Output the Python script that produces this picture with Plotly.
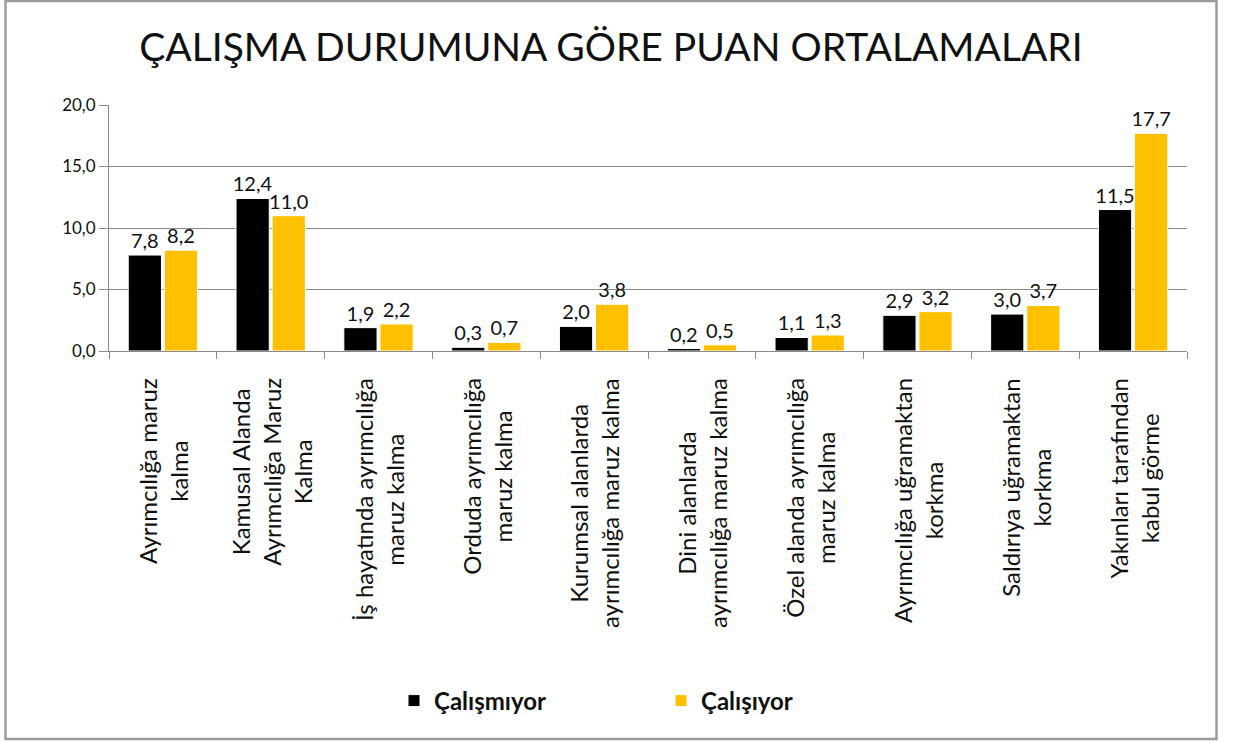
import plotly.graph_objects as go

# Chart data
categories = [
    "Ayrımcılığa maruz kalma",
    "Kamusal Alanda Ayrımcılığa Maruz Kalma",
    "İş hayatında ayrımcılığa maruz kalma",
    "Orduda ayrımcılığa maruz kalma",
    "Kurumsal alanlarda ayrımcılığa maruz kalma",
    "Dini alanlarda ayrımcılığa maruz kalma",
    "Özel alanda ayrımcılığa maruz kalma",
    "Ayrımcılığa uğramaktan korkma",
    "Saldırıya uğramaktan korkma",
    "Yakınları tarafından kabul görme",
]
tick_labels = [
    "Ayrımcılığa maruz<br>kalma",
    "Kamusal Alanda<br>Ayrımcılığa Maruz<br>Kalma",
    "İş hayatında ayrımcılığa<br>maruz kalma",
    "Orduda ayrımcılığa<br>maruz kalma",
    "Kurumsal alanlarda<br>ayrımcılığa maruz kalma",
    "Dini alanlarda<br>ayrımcılığa maruz kalma",
    "Özel alanda ayrımcılığa<br>maruz kalma",
    "Ayrımcılığa uğramaktan<br>korkma",
    "Saldırıya uğramaktan<br>korkma",
    "Yakınları tarafından<br>kabul görme",
]
calismiyor = [7.8, 12.4, 1.9, 0.3, 2.0, 0.2, 1.1, 2.9, 3.0, 11.5]
calisiyor = [8.2, 11.0, 2.2, 0.7, 3.8, 0.5, 1.3, 3.2, 3.7, 17.7]
y_ticks = [0, 5, 10, 15, 20]

FONT = "Lato, 'Open Sans', sans-serif"
GRID = "#8a8a8a"
INK = "#111111"

# Figure geometry (pixels)
W, H = 1238, 742
PL, PR, PT, PB = 109, 1187, 105, 351


def px_x(px):
    return (px - PL) / (PR - PL)


def px_y(py):
    return (PB - py) / (PB - PT)


fig = go.Figure()
for name, vals, color in [("Çalışmıyor", calismiyor, "#000000"),
                          ("Çalışıyor", calisiyor, "#FFC000")]:
    fig.add_trace(go.Bar(
        x=categories, y=vals, name=name,
        marker=dict(color=color, line=dict(color="#ffffff", width=1)),
        text=vals, texttemplate="%{y:.1f}", textposition="outside",
        constraintext="none",
        textfont=dict(family=FONT, size=20, color=INK),
        cliponaxis=False,
    ))

# Rotated, centred category labels below the axis
for cat, lab in zip(categories, tick_labels):
    fig.add_annotation(
        x=cat, xref="x", y=px_y(376), yref="paper",
        text=lab, textangle=-90, showarrow=False,
        xanchor="center", yanchor="top", align="center",
        font=dict(family=FONT, size=24, color=INK),
    )

# Outer chart frame
fig.add_shape(type="rect", xref="paper", yref="paper",
              x0=px_x(5.5), x1=px_x(1216.5), y0=px_y(739), y1=px_y(1),
              line=dict(color="#9c9c9c", width=2.5), layer="below")

fig.update_layout(
    width=W, height=H,
    margin=dict(l=PL, r=W - PR, t=PT, b=H - PB),
    paper_bgcolor="#ffffff", plot_bgcolor="#ffffff",
    separators=",.",
    barmode="group", bargap=0.33, bargroupgap=0.08,
    title=dict(text="ÇALIŞMA DURUMUNA GÖRE PUAN ORTALAMALARI",
               x=611 / W, xanchor="center", y=1 - 47 / H, yanchor="middle",
               font=dict(family=FONT, size=39, color=INK)),
    showlegend=True,
    legend=dict(orientation="h", x=px_x(394), xanchor="left",
                y=px_y(701), yanchor="middle",
                entrywidthmode="pixels", entrywidth=222,
                font=dict(family=FONT, size=24, color=INK, weight="bold"),
                itemclick=False),
    xaxis=dict(showticklabels=False, ticks="outside", tickson="boundaries",
               ticklen=7, tickcolor=GRID, showline=True, linecolor=GRID,
               linewidth=1, showgrid=False),
    yaxis=dict(range=[0, 20], tickvals=y_ticks, tickformat=".1f",
               ticks="outside", ticklen=9, tickcolor=GRID,
               showline=True, linecolor=GRID, linewidth=1,
               showgrid=True, gridcolor=GRID, gridwidth=1, zeroline=False,
               tickfont=dict(family=FONT, size=17, color=INK)),
)

fig.write_html("out.html")
